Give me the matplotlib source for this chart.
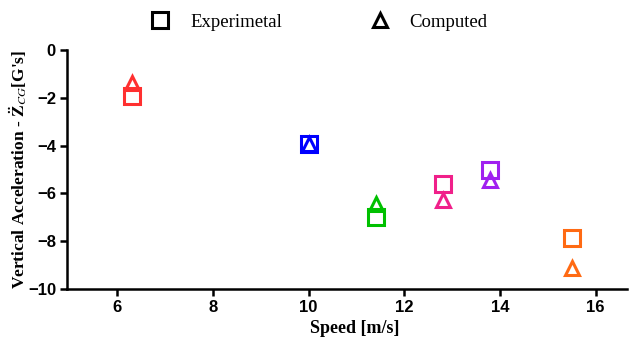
import matplotlib.pyplot as plt
from matplotlib.lines import Line2D

# data
speed = [6.3, 10.0, 11.4, 12.8, 13.8, 15.5]
experimental = [-1.92, -3.95, -7.0, -5.6, -5.02, -7.87]
computed = [-1.4, -3.95, -6.45, -6.28, -5.44, -9.12]
colors = ["#ff3030", "#0000ff", "#00c000", "#f0208a", "#a020f0", "#ff6a13"]

plt.rcParams['mathtext.fontset'] = 'stix'

fig = plt.figure(figsize=(6.33, 3.38), dpi=100)
ax = fig.add_axes([0.106, 0.145, 0.884, 0.707])

for x, e, c, col in zip(speed, experimental, computed, colors):
    ax.plot(x, e, linestyle='none', marker='s', markersize=11,
            markerfacecolor='none', markeredgecolor=col, markeredgewidth=2.2)
    ax.plot(x, c, linestyle='none', marker='^', markersize=10,
            markerfacecolor='none', markeredgecolor=col, markeredgewidth=2.2)

ax.set_xlim(4.95, 16.65)
ax.set_ylim(-10, 0)
ax.set_xticks([6, 8, 10, 12, 14, 16])
ax.set_yticks([0, -2, -4, -6, -8, -10])

for s in ['top', 'right']:
    ax.spines[s].set_visible(False)
for s in ['left', 'bottom']:
    ax.spines[s].set_linewidth(1.8)
ax.tick_params(width=1.8, length=5, direction='out', labelsize=12, pad=3)
for lab in ax.get_xticklabels() + ax.get_yticklabels():
    lab.set_fontfamily('Liberation Sans')
    lab.set_fontweight('bold')

ax.set_xlabel("Speed [m/s]", fontfamily='Liberation Serif', fontweight='bold',
              fontsize=13)
ax.xaxis.set_label_coords(0.514, -0.13)
ax.set_ylabel(r"Vertical Acceleration - $\mathbf{\ddot{Z}}_{\mathbf{\mathit{CG}}}$[G's]",
              fontfamily='Liberation Serif', fontweight='bold', fontsize=12.5, labelpad=-1)

handles = [
    Line2D([], [], linestyle='none', marker='s', markersize=11, markerfacecolor='none',
           markeredgecolor='black', markeredgewidth=2.2, label='Experimetal'),
    Line2D([], [], linestyle='none', marker='^', markersize=10, markerfacecolor='none',
           markeredgecolor='black', markeredgewidth=2.2, label='Computed'),
]
fig.legend(handles=handles, loc='upper center', bbox_to_anchor=(0.497, 1.01), ncol=2,
           frameon=False, columnspacing=4.2, handletextpad=0.6,
           prop={'family': 'Liberation Serif', 'size': 13.5})

plt.savefig("out.png", dpi=100)
